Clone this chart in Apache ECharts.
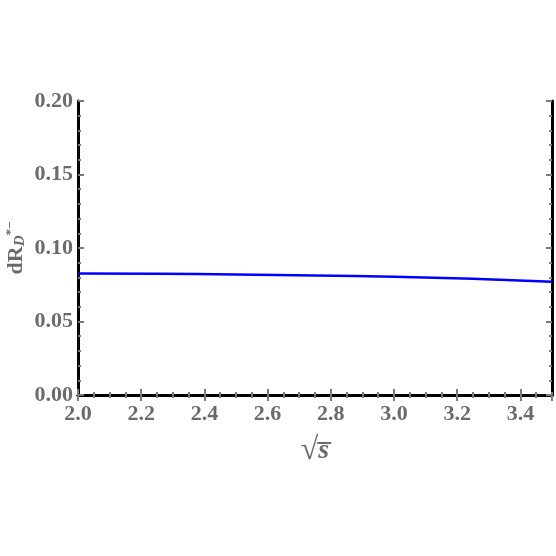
<!DOCTYPE html>
<html>
<head>
<meta charset="utf-8">
<script src="https://cdn.jsdelivr.net/npm/echarts@6/dist/echarts.min.js"></script>
<style>html,body{margin:0;padding:0;background:#fff;}#c{width:556px;height:556px;}</style>
</head>
<body>
<div id="c"></div>
<script>
const sqrtS = [2.0, 2.25, 2.5, 2.75, 3.0, 3.25, 3.5];
const dR = [0.0826, 0.0824, 0.0820, 0.0813, 0.0804, 0.0790, 0.0770];
const xTicks = ['2.0','2.2','2.4','2.6','2.8','3.0','3.2','3.4'];
const yTicks = ['0.00','0.05','0.10','0.15','0.20'];

const FONT = 'Liberation Serif';
const GRAY = '#6b6b6b';
const TICK = '#7a7a7a';
const X_MIN = 2.0, X_MAX = 3.5, Y_MIN = 0, Y_MAX = 0.2;

function xAxisDef(pos, major, labels) {
  return {
    type: 'value', position: pos, min: X_MIN, max: X_MAX,
    interval: major ? 0.2 : 0.05,
    axisLine: { show: major, lineStyle: { color: '#000', width: 3 } },
    axisTick: { show: true, inside: true, length: major ? 6 : 3, lineStyle: { color: TICK, width: 2 } },
    axisLabel: labels ? {
      show: true, margin: 8, showMaxLabel: false,
      fontFamily: FONT, fontWeight: 'bold', fontSize: 22, color: GRAY,
      formatter: v => { const s = v.toFixed(1); return xTicks.indexOf(s) >= 0 ? s : ''; }
    } : { show: false },
    splitLine: { show: false },
    name: labels ? '√{s|s\u0305}' : '',
    nameLocation: 'middle', nameGap: 40,
    nameTextStyle: {
      fontFamily: FONT, fontSize: 32, color: GRAY, fontWeight: 'bold',
      rich: { s: { fontFamily: FONT, fontSize: 28, fontStyle: 'italic', color: GRAY, fontWeight: 'bold' } }
    }
  };
}
function yAxisDef(pos, major, labels) {
  return {
    type: 'value', position: pos, min: Y_MIN, max: Y_MAX,
    interval: major ? 0.05 : 0.01,
    axisLine: { show: major, lineStyle: { color: '#000', width: 3 } },
    axisTick: { show: true, inside: true, length: major ? 6 : 3, lineStyle: { color: TICK, width: 2 } },
    axisLabel: labels ? {
      show: true, margin: 5,
      fontFamily: FONT, fontWeight: 'bold', fontSize: 22, color: GRAY,
      formatter: v => { const s = v.toFixed(2); return yTicks.indexOf(s) >= 0 ? s : ''; }
    } : { show: false },
    splitLine: { show: false },
    name: labels ? '{a|dR}{b|D}{c|*−}' : '',
    nameLocation: 'middle', nameGap: 50, nameMoveOverlap: false,
    nameTextStyle: {
      rich: {
        a: { fontFamily: FONT, fontSize: 22, fontWeight: 'bold', color: GRAY, verticalAlign: 'middle', lineHeight: 24 },
        b: { fontFamily: FONT, fontSize: 15, fontWeight: 'bold', fontStyle: 'italic', color: GRAY, verticalAlign: 'bottom', lineHeight: 24 },
        c: { fontFamily: FONT, fontSize: 13, fontWeight: 'bold', color: GRAY, verticalAlign: 'top', lineHeight: 24 }
      }
    }
  };
}

const chart = echarts.init(document.getElementById('c'), null, { renderer: 'canvas' });
chart.setOption({
  animation: false,
  backgroundColor: '#fff',
  grid: { left: 78, right: 4, top: 101, bottom: 161, containLabel: false, outerBoundsMode: 'none' },
  xAxis: [
    xAxisDef('bottom', true, true),
    xAxisDef('bottom', false, false),
    xAxisDef('top', true, false),
    xAxisDef('top', false, false)
  ],
  yAxis: [
    yAxisDef('left', true, true),
    yAxisDef('left', false, false),
    yAxisDef('right', true, false),
    yAxisDef('right', false, false)
  ],
  series: [{
    type: 'line', xAxisIndex: 0, yAxisIndex: 0,
    smooth: true, showSymbol: false,
    lineStyle: { color: '#0000ff', width: 2.5 },
    data: sqrtS.map((x, i) => [x, dR[i]])
  }]
});
</script>
</body>
</html>
